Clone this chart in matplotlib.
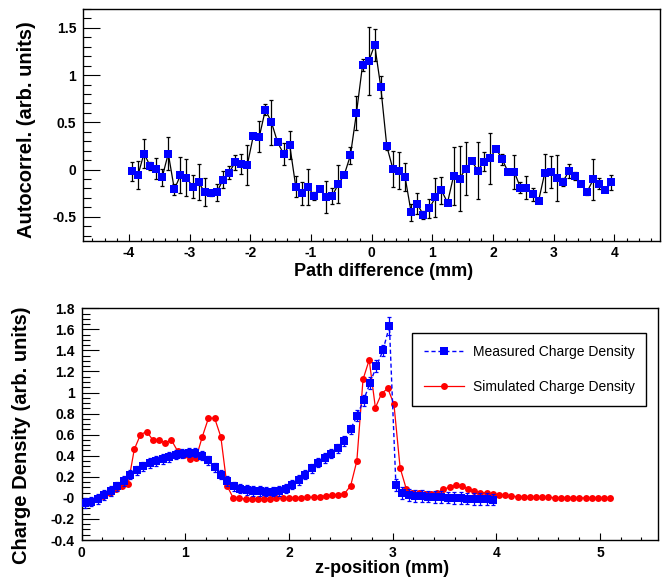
import numpy as np
import matplotlib.pyplot as plt
from matplotlib.ticker import MultipleLocator
from matplotlib.lines import Line2D

plt.rcParams['font.family'] = ['Liberation Sans', 'DejaVu Sans']

BLUE = '#0000ff'
RED = '#ff0000'

# --- top panel: autocorrelation vs path difference (mm) ---
path_start = -3.95
path_step = 0.1
autocorr = [-0.02, -0.06, 0.17, 0.04, 0.01, -0.08, 0.17, -0.21, -0.06, -0.085,
            -0.18, -0.135, -0.24, -0.25, -0.24, -0.11, -0.035, 0.075, 0.06, 0.045,
            0.355, 0.35, 0.635, 0.50, 0.29, 0.165, 0.26, -0.18, -0.25, -0.18,
            -0.28, -0.205, -0.29, -0.28, -0.155, -0.053, 0.15, 0.60, 1.106, 1.145,
            1.32, 0.875, 0.245, 0.007, -0.01, -0.077, -0.45, -0.36, -0.48, -0.41,
            -0.295, -0.22, -0.35, -0.066, -0.095, 0.01, 0.088, -0.01, 0.084, 0.12,
            0.22, 0.11, -0.03, -0.025, -0.19, -0.19, -0.26, -0.33, -0.04, -0.03,
            -0.09, -0.13, -0.015, -0.067, -0.15, -0.235, -0.105, -0.148, -0.22, -0.134]
autocorr_err = [0.10, 0.15, 0.15, 0.045, 0.11, 0.09, 0.17, 0.06, 0.19, 0.20,
                0.12, 0.19, 0.15, 0.03, 0.09, 0.09, 0.07, 0.08, 0.11, 0.21,
                0.02, 0.16, 0.06, 0.24, 0.02, 0.115, 0.145, 0.115, 0.12, 0.19,
                0.04, 0.02, 0.17, 0.08, 0.20, 0.02, 0.09, 0.18, 0.06, 0.36,
                0.17, 0.12, 0.04, 0.19, 0.20, 0.15, 0.09, 0.115, 0.04, 0.10,
                0.21, 0.14, 0.02, 0.31, 0.34, 0.28, 0.02, 0.30, 0.10, 0.27,
                0.02, 0.06, 0.02, 0.18, 0.06, 0.12, 0.07, 0.02, 0.20, 0.17,
                0.24, 0.045, 0.07, 0.04, 0.02, 0.03, 0.22, 0.06, 0.02, 0.08]
path_diff = path_start + path_step * np.arange(len(autocorr))

# --- bottom panel: charge density vs z-position (mm) ---
meas_start = 0.03125
meas_step = 0.0625
meas = [-0.05, -0.035, -0.01, 0.026, 0.067, 0.11, 0.16, 0.22, 0.26, 0.30,
        0.33, 0.35, 0.37, 0.39, 0.41, 0.42, 0.43, 0.43, 0.40, 0.355,
        0.29, 0.22, 0.16, 0.11, 0.087, 0.075, 0.067, 0.064, 0.06, 0.06,
        0.067, 0.087, 0.125, 0.17, 0.22, 0.28, 0.335, 0.38, 0.42, 0.47,
        0.54, 0.65, 0.78, 0.925, 1.09, 1.25, 1.40, 1.63, 0.125, 0.045,
        0.026, 0.019, 0.016, 0.013, 0.01, 0.006, 0.003, 0.0, -0.003, -0.006,
        -0.009, -0.011, -0.013, -0.016]
meas_err = [0.045, 0.045, 0.045, 0.045, 0.045, 0.045, 0.045, 0.045, 0.045, 0.045,
            0.045, 0.045, 0.045, 0.045, 0.045, 0.045, 0.045, 0.045, 0.045, 0.045,
            0.045, 0.045, 0.045, 0.045, 0.045, 0.045, 0.045, 0.045, 0.045, 0.045,
            0.045, 0.045, 0.045, 0.045, 0.045, 0.045, 0.045, 0.045, 0.045, 0.045,
            0.045, 0.045, 0.05, 0.05, 0.055, 0.055, 0.055, 0.085, 0.055, 0.055,
            0.055, 0.055, 0.055, 0.055, 0.055, 0.055, 0.055, 0.055, 0.055, 0.055,
            0.055, 0.055, 0.055, 0.055]
z_meas = meas_start + meas_step * np.arange(len(meas))

sim = [-0.05, -0.03, -0.01, 0.02, 0.05, 0.08, 0.11, 0.13, 0.46, 0.60,
       0.63, 0.55, 0.55, 0.52, 0.55, 0.445, 0.41, 0.37, 0.38, 0.58,
       0.757, 0.757, 0.58, 0.115, 0.0, -0.005, -0.01, -0.01, -0.01, -0.008,
       -0.006, -0.005, -0.004, -0.002, 0.0, 0.003, 0.005, 0.008, 0.012, 0.02,
       0.026, 0.03, 0.04, 0.115, 0.35, 1.125, 1.31, 0.856, 0.99, 1.04,
       0.89, 0.285, 0.084, 0.051, 0.045, 0.041, 0.041, 0.045, 0.084, 0.10,
       0.118, 0.108, 0.087, 0.067, 0.051, 0.045, 0.038, 0.029, 0.026, 0.019,
       0.01, 0.01, 0.01, 0.005, 0.004, 0.004, 0.003, 0.002, 0.002, 0.001,
       0.0, 0.0, -0.001, -0.002, -0.002, -0.003]
z_sim = np.linspace(0.03, 5.10, len(sim))

top_xticks = [-4, -3, -2, -1, 0, 1, 2, 3, 4]
top_xlabels = ['-4', '-3', '-2', '-1', '0', '1', '2', '3', '4']
top_yticks = [-0.5, 0, 0.5, 1, 1.5]
top_ylabels = ['-0.5', '0', '0.5', '1', '1.5']
bot_xticks = [0, 1, 2, 3, 4, 5]
bot_xlabels = ['0', '1', '2', '3', '4', '5']
bot_yticks = [-0.4, -0.2, 0, 0.2, 0.4, 0.6, 0.8, 1, 1.2, 1.4, 1.6, 1.8]
bot_ylabels = ['-0.4', '-0.2', '-0', '0.2', '0.4', '0.6', '0.8', '1', '1.2', '1.4', '1.6', '1.8']

W, H = 663, 580
fig = plt.figure(figsize=(W / 100, H / 100), dpi=100)
ax1 = fig.add_axes([83.3 / W, 1 - 240.7 / H, (660 - 83.3) / W, (240.7 - 9) / H])
ax2 = fig.add_axes([81.7 / W, 1 - 540 / H, (658 - 81.7) / W, (540 - 308.3) / H])


def style_axes(ax, xminor, yminor):
    ax.xaxis.set_minor_locator(MultipleLocator(xminor))
    ax.yaxis.set_minor_locator(MultipleLocator(yminor))
    ax.tick_params(which='both', direction='in', top=False, right=False, width=0.8)
    ax.tick_params(axis='y', which='major', length=12, pad=5)
    ax.tick_params(axis='y', which='minor', length=6)
    ax.tick_params(axis='x', which='major', length=4.7, pad=4)
    ax.tick_params(axis='x', which='minor', length=2.4)
    for sp in ax.spines.values():
        sp.set_linewidth(1.0)
        sp.set_color('black')


# top panel
ax1.plot(path_diff, autocorr, color='black', lw=0.9, zorder=2)
ax1.errorbar(path_diff, autocorr, yerr=autocorr_err, fmt='none', ecolor='black',
             elinewidth=0.9, capsize=1.6, capthick=0.9, zorder=2)
ax1.plot(path_diff, autocorr, 's', color=BLUE, ms=5.1, mew=0, zorder=3)
ax1.set_xlim(-4.75, 4.75)
ax1.set_ylim(-0.753, 1.70)
ax1.set_xticks(top_xticks, top_xlabels, fontsize=10, fontweight='bold')
ax1.set_yticks(top_yticks, top_ylabels, fontsize=10, fontweight='bold')
style_axes(ax1, 0.2, 0.1)

# bottom panel
ax2.plot(z_sim, sim, '-o', color=RED, lw=0.9, ms=5.0, mew=0, zorder=2)
ax2.errorbar(z_meas, meas, yerr=meas_err, fmt='none', ecolor=BLUE,
             elinewidth=0.9, capsize=1.6, capthick=0.9, zorder=3)
ax2.plot(z_meas, meas, 's', ls=(0, (3, 2)), lw=1.0, color=BLUE, ms=5.2, mew=0, zorder=4)
ax2.set_xlim(0, 5.56)
ax2.set_ylim(-0.4, 1.8)
ax2.set_xticks(bot_xticks, bot_xlabels, fontsize=10, fontweight='bold')
ax2.set_yticks(bot_yticks, bot_ylabels, fontsize=10, fontweight='bold')
style_axes(ax2, 0.2, 0.05)

h_meas = Line2D([], [], color=BLUE, ls=(0, (3, 2)), lw=1.0, marker='s', ms=5.2, mew=0)
h_sim = Line2D([], [], color=RED, ls='-', lw=0.9, marker='o', ms=5.0, mew=0)
leg = ax2.legend([h_meas, h_sim], ['Measured Charge Density', 'Simulated Charge Density'],
                 loc='upper right', bbox_to_anchor=(0.980, 0.892), fontsize=10,
                 frameon=True, fancybox=False, edgecolor='black', framealpha=1,
                 borderpad=0.85, labelspacing=1.5, handlelength=2.9, handletextpad=0.6,
                 borderaxespad=0, numpoints=1)
leg.get_frame().set_linewidth(1.0)

# axis titles
fig.text(384 / W, 1 - 276 / H, 'Path difference (mm)', ha='center', va='baseline',
         fontsize=13, fontweight='bold')
fig.text(382 / W, 1 - 573 / H, 'z-position (mm)', ha='center', va='baseline',
         fontsize=13, fontweight='bold')
fig.text(27 / W, 1 - 129.7 / H, 'Autocorrel. (arb. units)', rotation=90, ha='center',
         va='center', fontsize=14.5, fontweight='bold')
fig.text(22 / W, 1 - 434.8 / H, 'Charge Density (arb. units)', rotation=90, ha='center',
         va='center', fontsize=14.5, fontweight='bold')

fig.savefig('out.png', dpi=100)
